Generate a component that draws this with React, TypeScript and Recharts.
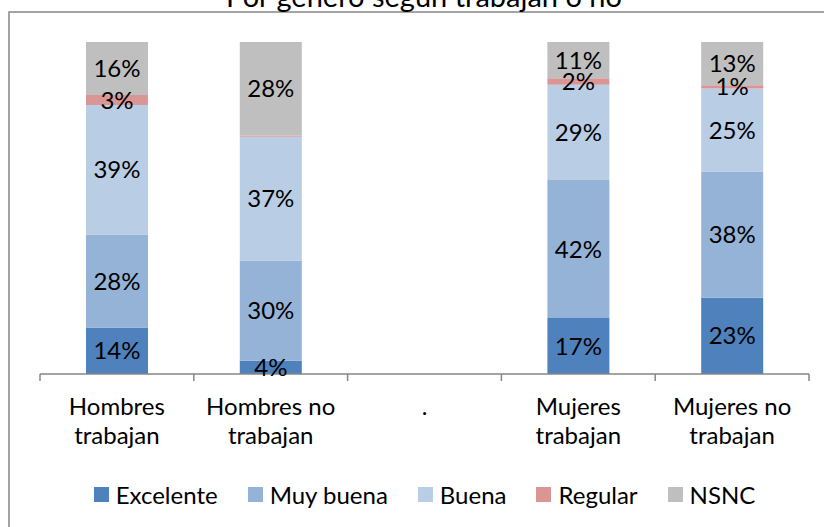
import React from 'react';
import { BarChart, Bar, XAxis, YAxis, Legend, LabelList } from 'recharts';

const categories = ['Hombres trabajan', 'Hombres no trabajan', '.', 'Mujeres trabajan', 'Mujeres no trabajan'];
const excelente = [14, 4, null, 17, 23];
const muyBuena = [28, 30, null, 42, 38];
const buena = [39, 37, null, 29, 25];
const regular = [3, 0.4, null, 2, 1];
const nsnc = [16, 28, null, 11, 13];

const seriesNames = ['Excelente', 'Muy buena', 'Buena', 'Regular', 'NSNC'];
const seriesKeys = ['excelente', 'muyBuena', 'buena', 'regular', 'nsnc'];
const seriesColors = ['#4F81BD', '#95B3D7', '#B9CDE5', '#D99694', '#BFBFBF'];
const seriesValues = [excelente, muyBuena, buena, regular, nsnc];

const data = categories.map((c, i) => {
  const row: any = { name: c };
  seriesKeys.forEach((k, j) => {
    row[k] = seriesValues[j][i];
  });
  return row;
});

const FONT = 'Lato, "Open Sans", sans-serif';

const CategoryTick = (props: any) => {
  const { x, y, payload, index, visibleTicksCount } = props;
  const half = payload && payload.offset ? payload.offset : 76.9;
  const words = String(payload.value).split(' ');
  let lines: string[];
  if (words.length >= 3) {
    lines = [words.slice(0, 2).join(' '), words.slice(2).join(' ')];
  } else if (words.length === 2) {
    lines = [words[0], words[1]];
  } else {
    lines = [words[0]];
  }
  const isLast = index === (visibleTicksCount ?? categories.length) - 1;
  return (
    <g>
      <line x1={x - half} x2={x - half} y1={y} y2={y + 7} stroke="#868686" strokeWidth={1.5} />
      {isLast && <line x1={x + half} x2={x + half} y1={y} y2={y + 7} stroke="#868686" strokeWidth={1.5} />}
      {lines.map((l, i) => (
        <text key={i} x={x} y={y + 41 + i * 29} textAnchor="middle" fontSize={24} fontFamily={FONT} fill="#000">
          {l}
        </text>
      ))}
    </g>
  );
};

const renderLegend = () => (
  <div style={{ display: 'flex', justifyContent: 'center', alignItems: 'center', fontFamily: FONT, fontSize: 24, color: '#000' }}>
    {seriesNames.map((n, i) => (
      <div key={n} style={{ display: 'flex', alignItems: 'center', marginRight: i < seriesNames.length - 1 ? 30 : 0 }}>
        <span style={{ display: 'inline-block', width: 15, height: 15, background: seriesColors[i], marginRight: 7 }} />
        <span>{n}</span>
      </div>
    ))}
  </div>
);

const labelFmt = (v: any) => (v == null || v < 1 ? '' : `${v}%`);

export default function App() {
  return (
    <div style={{ position: 'absolute', left: 0, top: 0, width: 824, height: 527, overflow: 'hidden', background: '#fff' }}>
      <svg width={824} height={527} style={{ position: 'absolute', left: 0, top: 0 }}>
        <rect x={9} y={12} width={900} height={600} fill="none" stroke="#868686" strokeWidth={1.5} />
        <text x={424} y={7} textAnchor="middle" fontSize={29} fontFamily={FONT} fill="#000">
          Por género según trabajan o no
        </text>
      </svg>
      <div style={{ position: 'absolute', left: 0, top: 0 }}>
        <BarChart
          width={824}
          height={527}
          data={data}
          stackOffset="expand"
          margin={{ top: 42, right: 15, left: 40, bottom: 43 }}
        >
          <XAxis
            dataKey="name"
            height={80}
            interval={0}
            tickLine={false}
            tickSize={0}
            tickMargin={0}
            axisLine={{ stroke: '#868686', strokeWidth: 1.5 }}
            tick={<CategoryTick />}
          />
          <YAxis hide domain={[0, 1]} />
          <Legend verticalAlign="bottom" content={renderLegend} wrapperStyle={{ bottom: 17, height: 30 }} />
          {seriesKeys.map((k, i) => (
            <Bar key={k} dataKey={k} name={seriesNames[i]} stackId="a" fill={seriesColors[i]} barSize={62} isAnimationActive={false}>
              <LabelList dataKey={k} position="center" formatter={labelFmt} fontSize={24} fontFamily={FONT} fill="#000" />
            </Bar>
          ))}
        </BarChart>
      </div>
    </div>
  );
}
